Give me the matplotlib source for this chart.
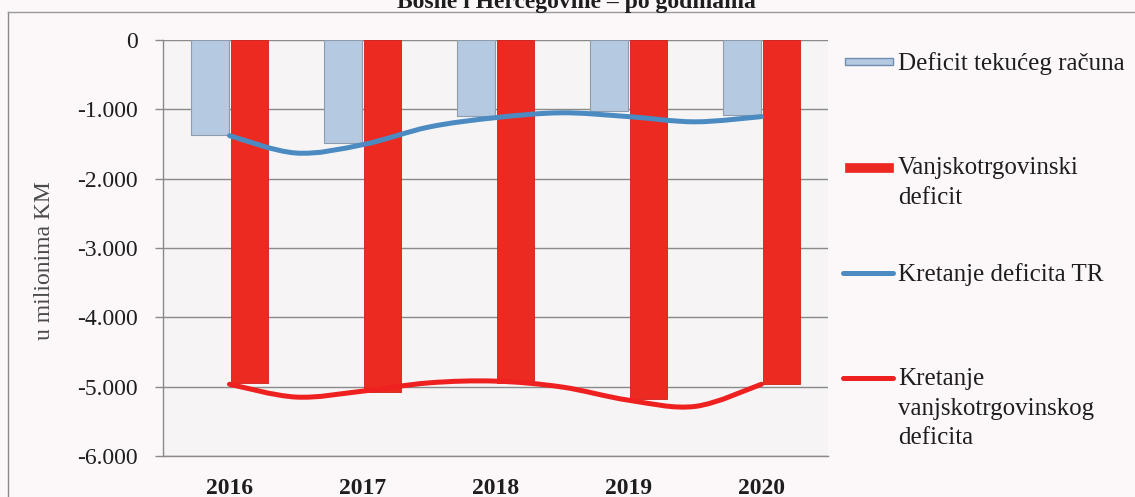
import numpy as np
import matplotlib
matplotlib.use("Agg")
import matplotlib.pyplot as plt
from matplotlib.path import Path
from matplotlib.patches import PathPatch, Rectangle
from matplotlib.lines import Line2D

# data (u milionima KM)
years = ["2016", "2017", "2018", "2019", "2020"]
deficit_tr = [-1375, -1480, -1095, -1025, -1075]
deficit_vt = [-4950, -5070, -4950, -5180, -4960]

# the trend curves, read at every half year
trend_pos = [0, 0.5, 1, 1.5, 2, 2.5, 3, 3.5, 4]
trend_tr = [-1380, -1630, -1510, -1255, -1120, -1050, -1105, -1180, -1105]
trend_vt = [-4965, -5150, -5065, -4945, -4920, -5005, -5195, -5285, -4965]

yticks = [0, -1000, -2000, -3000, -4000, -5000, -6000]
ytick_labels = ["0", "-1.000", "-2.000", "-3.000", "-4.000", "-5.000", "-6.000"]

BLUE_BAR = "#b5c9e1"
BLUE_EDGE = "#8e9cad"
RED = "#ec2a22"
BLUE_LINE = "#4b8bc2"
RED_LINE = "#ee2020"
GRID = "#8a8a8a"

plt.rcParams["font.family"] = ["Liberation Serif", "DejaVu Serif"]


def smooth_path(xs, ys):
    pts = np.column_stack([xs, ys]).astype(float)
    n = len(pts)
    verts = [pts[0]]
    codes = [Path.MOVETO]
    for i in range(n - 1):
        p0 = pts[i - 1] if i > 0 else pts[i]
        p1 = pts[i]
        p2 = pts[i + 1]
        p3 = pts[i + 2] if i + 2 < n else pts[i + 1]
        verts += [p1 + (p2 - p0) / 6, p2 - (p3 - p1) / 6, p2]
        codes += [Path.CURVE4] * 3
    return Path(verts, codes)


W, H = 1135, 497
fig = plt.figure(figsize=(W / 100, H / 100), dpi=100, facecolor="#fcf8fa")
ax = fig.add_axes([163 / W, 1 - 456 / H, (828 - 163) / W, (456 - 40) / H])
ax.set_facecolor("#f6f4f5")

x = np.arange(len(years))
bw = 0.28
ax.bar(x - 0.147, deficit_tr, bw, color=BLUE_BAR, edgecolor=BLUE_EDGE, linewidth=0.8, zorder=3)
ax.bar(x + 0.152, deficit_vt, bw, color=RED, edgecolor="#d02018", linewidth=0.6, zorder=3)

ax.add_patch(PathPatch(smooth_path(trend_pos, trend_tr), fill=False, edgecolor=BLUE_LINE,
                       linewidth=3.6, capstyle="round", zorder=4))
ax.add_patch(PathPatch(smooth_path(trend_pos, trend_vt), fill=False, edgecolor=RED_LINE,
                       linewidth=3.6, capstyle="round", zorder=4))

ax.set_xlim(-0.5, len(years) - 0.5)
ax.set_ylim(-6000, 0)
ax.set_yticks(yticks)
ax.set_yticklabels(ytick_labels)
ax.set_xticks(x)
ax.set_xticklabels(years, fontweight="bold")
ax.tick_params(axis="y", direction="out", length=6, width=1, color=GRID,
               labelsize=17, pad=12, labelcolor="#1e1e1e")
ax.tick_params(axis="x", length=0, labelsize=17, pad=16, labelcolor="#1e1e1e")
ax.grid(axis="y", color=GRID, linewidth=1, zorder=1)
ax.set_axisbelow(True)
for s in ["top", "right"]:
    ax.spines[s].set_visible(False)
for s in ["left", "bottom"]:
    ax.spines[s].set_color(GRID)
    ax.spines[s].set_linewidth(1)
ax.set_ylabel("u milionima KM", fontsize=17, color="#4a4a4a")
ax.yaxis.set_label_coords(-0.162, 0.47)

# outer frame and cut-off heading
fig.add_artist(Line2D([8 / W, 8 / W], [0, 1 - 12 / H], transform=fig.transFigure,
                      color="#8a8a8a", linewidth=1))
fig.add_artist(Line2D([8 / W, 1], [1 - 12 / H, 1 - 12 / H], transform=fig.transFigure,
                      color="#9a9a9a", linewidth=1))
fig.text(576 / W, 1 - 8 / H, "Bosne i Hercegovine \u2013 po godinama", ha="center",
         va="baseline", fontsize=17, fontweight="bold", color="#1e1e1e")

# legend drawn by hand to keep the uneven spacing of the original
fig.add_artist(Rectangle((845 / W, 1 - 65 / H), 48 / W, 7 / H, transform=fig.transFigure,
                         facecolor=BLUE_BAR, edgecolor="#6f8fb0", linewidth=1))
fig.add_artist(Rectangle((845 / W, 1 - 172 / H), 48 / W, 9 / H, transform=fig.transFigure,
                         facecolor=RED, edgecolor=RED, linewidth=0.5))
fig.add_artist(Line2D([843 / W, 893 / W], [1 - 273 / H] * 2, transform=fig.transFigure,
                      color=BLUE_LINE, linewidth=3.6, solid_capstyle="round"))
fig.add_artist(Line2D([843 / W, 893 / W], [1 - 378 / H] * 2, transform=fig.transFigure,
                      color=RED_LINE, linewidth=3.6, solid_capstyle="round"))

legend_items = [
    ("Deficit teku\u0107eg ra\u010duna", 62),
    ("Vanjskotrgovinski\ndeficit", 167),
    ("Kretanje deficita TR", 273),
    ("Kretanje\nvanjskotrgovinskog\ndeficita", 378),
]
for label, ymid in legend_items:
    fig.text(898 / W, 1 - (ymid - 10) / H, label, ha="left", va="top", fontsize=18,
             color="#1e1e1e", linespacing=1.45)

fig.savefig("out.png", dpi=100, facecolor=fig.get_facecolor())
